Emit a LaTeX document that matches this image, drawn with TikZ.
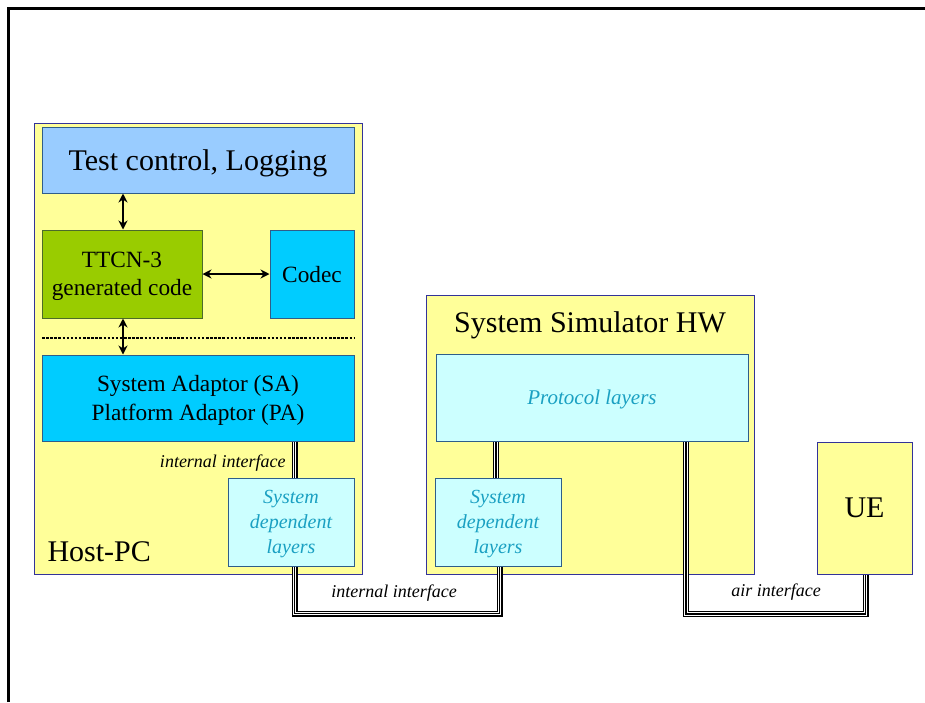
\documentclass[tikz,border=0pt]{standalone}
\usepackage{fontspec}
\setmainfont{Liberation Serif}
\usetikzlibrary{arrows.meta,calc}
\definecolor{paleyellow}{HTML}{FFFF99}
\definecolor{lightblue}{HTML}{99CCFF}
\definecolor{ttcngreen}{HTML}{99CC00}
\definecolor{cyanbox}{HTML}{00CCFF}
\definecolor{palecyan}{HTML}{CCFFFF}
\definecolor{navyedge}{HTML}{333399}
\definecolor{blueedge}{HTML}{2F5D8A}
\definecolor{greenedge}{HTML}{4B6B2A}
\definecolor{tealtext}{HTML}{1AA0C2}
\tikzset{
  box/.style={rectangle, inner sep=0pt, line width=1pt, align=center, text depth=0pt},
  outerbox/.style={box, fill=paleyellow, draw=navyedge},
  bluebox/.style={box, draw=blueedge},
  sdbox/.style={box, fill=palecyan, draw=blueedge, text=tealtext,
    font=\fontsize{20}{25}\selectfont\itshape},
  bigfont/.style={font=\fontsize{30}{32}\selectfont},
  midfont/.style={font=\fontsize{23.3}{28.5}\selectfont},
  smallit/.style={font=\fontsize{18}{20}\selectfont\itshape},
  arr/.style={line width=2.5pt, {Stealth[length=9pt,width=9pt]}-{Stealth[length=9pt,width=9pt]}},
  triline/.style={line width=1.5pt, black,
    preaction={draw, line width=6pt, black},
    preaction={draw, line width=3.6pt, white}},
}
\begin{document}
\begin{tikzpicture}[x=1pt,y=-1pt]
\useasboundingbox (0,0) rectangle (925,702);
% page frame
\coordinate (fa) at (8,702);
\coordinate (fb) at (8,8);
\coordinate (fc) at (925,8);
\draw[line width=3pt] (fa) -- (fb) -- (fc);

% outer boxes
\node[outerbox, minimum width=328pt, minimum height=451pt] (host) at (198,348.5) {};
\node[outerbox, minimum width=328pt, minimum height=279pt] (sim) at (590,434.5) {};
\node[outerbox, minimum width=95pt, minimum height=132pt, bigfont] (ue) at (864.5,508) {UE};

% connector helper coordinates
\coordinate (cxa) at (294.5,0);
\coordinate (cxb) at (496,0);
\coordinate (cxc) at (499.5,0);
\coordinate (cxd) at (686,0);
\coordinate (cxe) at (865.5,0);
\coordinate (yl) at (0,613.5);
\coordinate (yr) at (0,614);

% inner boxes of host
\node[bluebox, fill=lightblue, minimum width=312pt, minimum height=66pt, bigfont] (tc) at (198,160) {Test control, Logging};
\node[box, fill=ttcngreen, draw=greenedge, minimum width=160pt, minimum height=88pt, midfont] (ttcn) at (122,274) {TTCN-3\\generated code};
\node[bluebox, fill=cyanbox, minimum width=84pt, minimum height=88pt, midfont] (codec) at (312,274) {Codec};
\node[bluebox, fill=cyanbox, minimum width=312pt, minimum height=86pt, midfont] (sa) at (198,398) {System Adaptor (SA)\\Platform Adaptor (PA)};
\node[sdbox, minimum width=126pt, minimum height=88pt] (sdl) at (291,522) {System\\dependent\\layers};
\node[bigfont, anchor=base west] (hostlbl) at (44,561) {Host-PC};

% inner boxes of simulator
\node[bigfont, anchor=base] (simlbl) at (590,332) {System Simulator HW};
\node[box, fill=palecyan, draw=blueedge, text=tealtext, minimum width=312pt, minimum height=87pt,
  font=\fontsize{21}{24}\selectfont\itshape] (proto) at (592,397.5) {Protocol layers};
\node[sdbox, minimum width=126pt, minimum height=88pt] (sdr) at (498,522) {System\\dependent\\layers};

% arrows inside host
\coordinate (ax) at (123,0);
\draw[arr] (tc.south -| ax) -- (ttcn.north -| ax);
\draw[arr] (ttcn.east) -- (codec.west);
\draw[arr] (ttcn.south -| ax) -- (sa.north -| ax);
\coordinate (dl) at (42,338);
\coordinate (dr) at (354,338);
\draw[line width=2.5pt, dash pattern=on 2.5pt off 1.6pt] (dl) -- (dr);

% interfaces
\draw[triline] (sa.south -| cxa) -- (sdl.north -| cxa);
\draw[triline] (sdl.south -| cxa) -- (cxa |- yl) -- (cxc |- yl) -- (sdr.south -| cxc);
\draw[triline] (sdr.north -| cxb) -- (proto.south -| cxb);
\draw[triline] (proto.south -| cxd) -- (cxd |- yr) -- (cxe |- yr) -- (ue.south -| cxe);

% interface labels
\node[smallit, anchor=base east] (ii1) at (289,467) {internal interface};
\node[smallit, anchor=base] (ii2) at (394,597) {internal interface};
\node[smallit, anchor=base] (air) at (776,596) {air interface};
\end{tikzpicture}
\end{document}
